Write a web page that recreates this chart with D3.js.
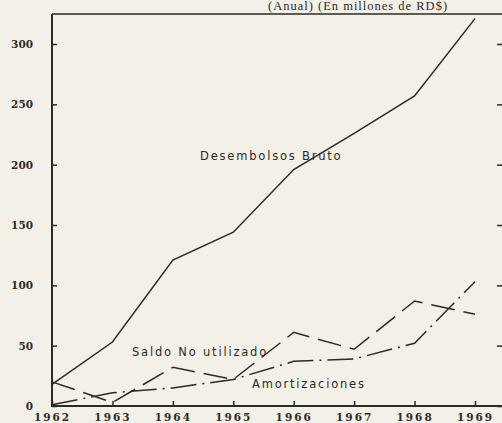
<!DOCTYPE html>
<html><head><meta charset="utf-8">
<script src="https://cdn.jsdelivr.net/npm/d3@7"></script>
<style>
html,body{margin:0;padding:0;background:#f3f0e7;}
svg{display:block;}
</style></head>
<body>
<svg id="c" width="502" height="423"></svg>
<script>
const years = [1962, 1963, 1964, 1965, 1966, 1967, 1968, 1969];
const desembolsos = [18, 53, 121, 144, 196, 226, 257, 321];
const saldo = [20, 3, 32, 22, 61, 47, 87, 76];
const amortizaciones = [1, 11, 15, 22, 37, 39, 52, 103];
const yTicks = [0, 50, 100, 150, 200, 250, 300];
const title = "(Anual) (En millones de RD$)";

const svg = d3.select("#c");
const ink = "#2b2a27";
const x = d3.scaleLinear().domain([1962, 1969]).range([52, 475]);
const y = d3.scaleLinear().domain([0, 300]).range([406, 44]);
const xRight = 503, yTop = 14;

// frame
svg.append("line").attr("x1", 52).attr("x2", xRight).attr("y1", yTop).attr("y2", yTop)
  .attr("stroke", ink).attr("stroke-width", 1.6);

// left axis
const gl = svg.append("g").attr("transform", "translate(52,0)")
  .call(d3.axisLeft(y).tickValues(yTicks).tickSize(-5).tickPadding(19).tickFormat(d3.format("d")));
gl.select(".domain").remove();
gl.append("line").attr("x1", 0).attr("x2", 0).attr("y1", yTop).attr("y2", 407).attr("stroke", ink).attr("stroke-width", 2);
// right axis ticks
const gr = svg.append("g").attr("transform", `translate(${xRight},0)`)
  .call(d3.axisRight(y).tickValues(yTicks).tickSize(-6).tickFormat(""));
gr.select(".domain").remove();
// bottom axis
const gb = svg.append("g").attr("transform", "translate(0,406)")
  .call(d3.axisBottom(x).tickValues(years).tickSize(-5).tickPadding(9).tickFormat(d3.format("d")));
gb.select(".domain").remove();
gb.append("line").attr("x1", 51).attr("x2", xRight).attr("y1", 0).attr("y2", 0).attr("stroke", ink).attr("stroke-width", 2);

svg.selectAll(".tick line").attr("stroke", ink).attr("stroke-width", 1.5);
svg.selectAll(".tick text").attr("fill", ink)
  .attr("font-family", "DejaVu Serif").attr("font-size", 10.5).attr("font-weight", "bold")
  .style("letter-spacing", "0px");
gb.selectAll(".tick text").style("letter-spacing", "2px").attr("dy", "0.55em");

// lines
const line = d3.line().x((d, i) => x(years[i])).y(d => y(d));
const series = [
  {v: desembolsos, dash: null},
  {v: saldo, dash: "24,9"},
  {v: amortizaciones, dash: "26,6,2,6"}
];
series.forEach(s => {
  svg.append("path").datum(s.v).attr("d", line).attr("fill", "none")
    .attr("stroke", ink).attr("stroke-width", 1.5)
    .attr("stroke-dasharray", s.dash);
});

// labels
const lab = (t, xx, yy) => svg.append("text").attr("x", xx).attr("y", yy).text(t)
  .attr("fill", ink).attr("font-family", "DejaVu Sans").attr("font-size", 11.5)
  .style("letter-spacing", "1.8px");
lab("Desembolsos Bruto", 200, 160);
lab("Saldo No utilizado", 132, 356);
lab("Amortizaciones", 252, 388);

svg.append("text").attr("x", 268).attr("y", 10).text(title)
  .attr("fill", ink).attr("font-family", "Liberation Serif").attr("font-size", 12.5)
  .style("letter-spacing", "1px");
</script>
</body></html>
